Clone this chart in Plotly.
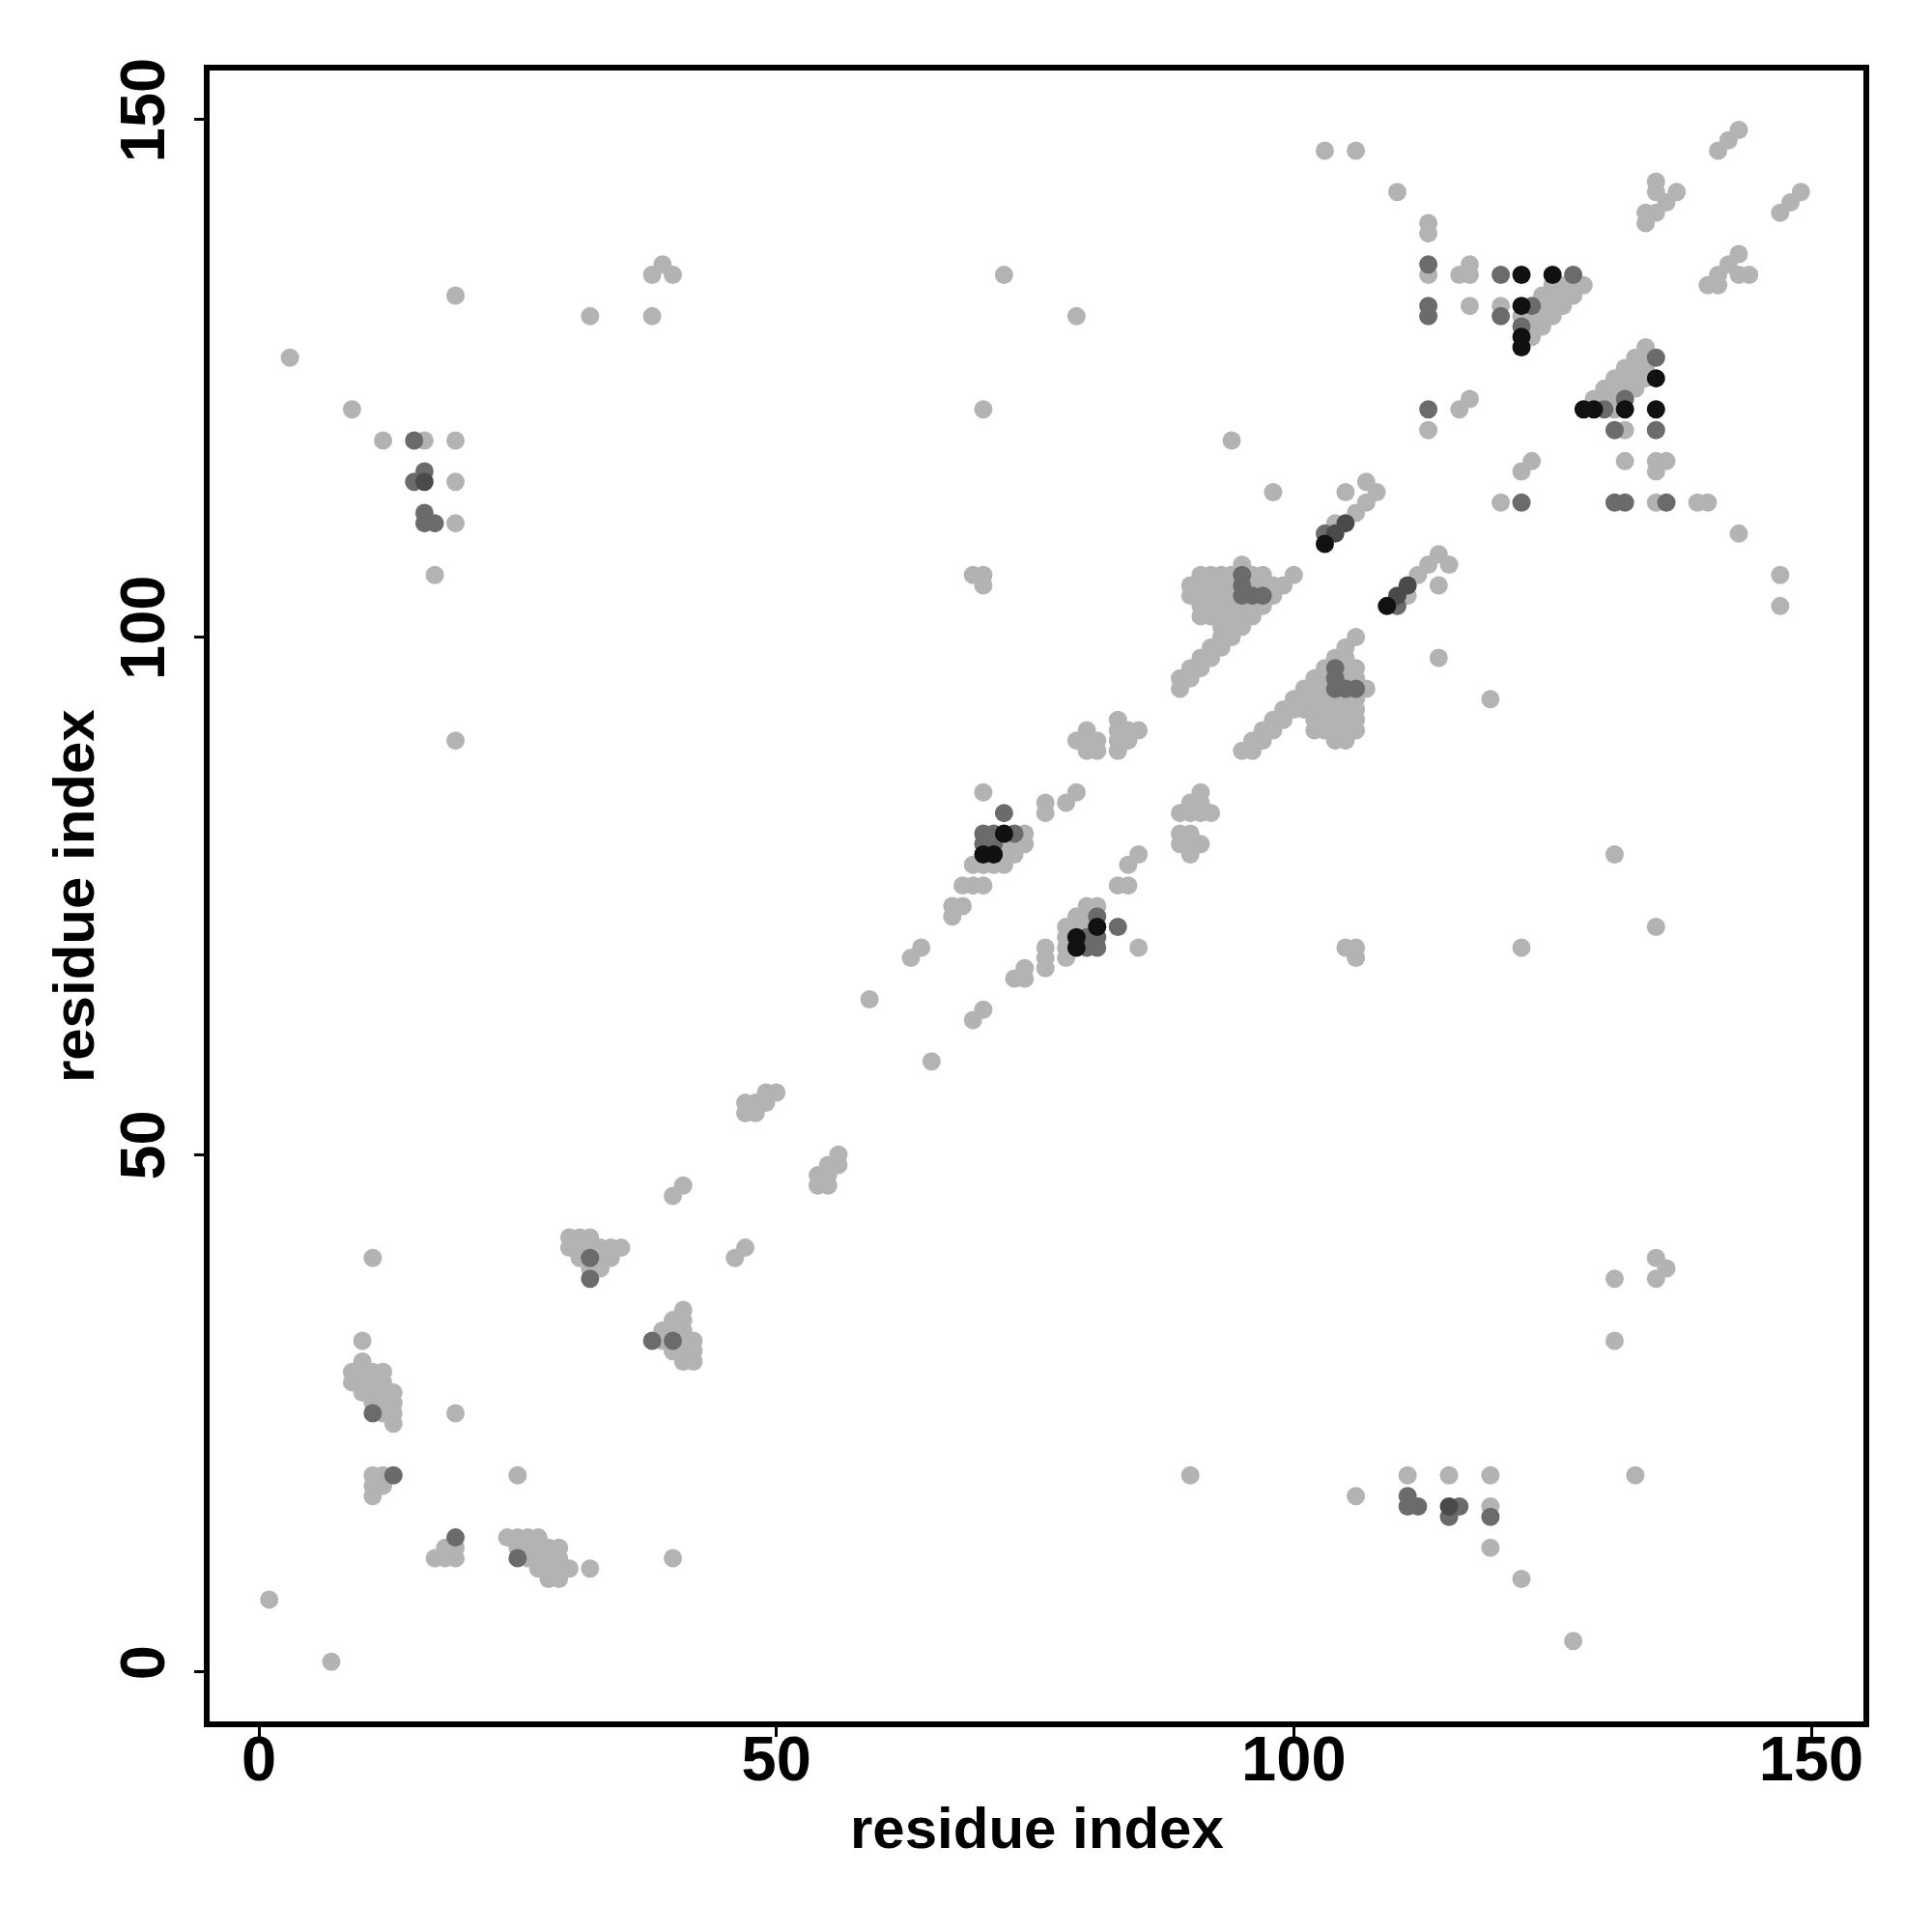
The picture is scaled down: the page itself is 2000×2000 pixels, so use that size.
import plotly.graph_objects as go

# Contact map (symmetric): pairs listed for the upper triangle (x < y); mirrored below.
light_pairs = [
    (1, 7), (3, 127), (9, 122), (12, 119), (16, 119), (19, 119), (19, 115), (19, 111), (17, 106), (19, 133),
    (32, 131), (38, 131), (38, 135), (39, 136), (40, 135), (19, 90), (72, 135), (79, 131), (70, 122), (94, 119),
    (98, 114), (69, 106), (70, 106), (70, 105), (103, 147), (106, 147), (110, 143), (113, 140), (113, 139), (113, 135),
    (116, 135), (117, 135), (117, 136), (117, 132), (120, 132), (113, 120), (116, 122), (117, 123), (122, 131),
    (134, 140), (134, 141), (135, 141), (135, 143), (135, 144), (136, 142), (137, 143), (141, 147), (142, 148), (143, 149),
    (11, 40), (19, 25), (10, 32), (11, 17), (11, 18), (11, 19), (12, 18), (12, 19),
    (10, 30), (9, 29), (10, 29), (11, 29), (12, 29), (9, 28), (10, 28), (11, 28), (12, 28), (10, 27), (11, 27),
    (12, 27), (13, 27), (11, 26), (12, 26), (13, 26), (12, 25), (13, 25), (13, 24),
    (30, 42), (31, 42), (32, 42), (30, 41), (31, 41), (32, 41), (33, 41), (34, 41), (35, 41), (31, 40), (33, 40),
    (34, 40), (32, 39), (33, 39),
    (40, 46), (41, 47), (47, 54), (47, 55), (48, 54), (48, 55), (49, 55), (49, 56), (50, 56),
    (59, 65), (63, 69), (64, 70), (67, 73), (67, 74), (68, 74), (68, 76), (69, 76), (70, 76),
    (69, 78), (70, 78), (71, 78), (72, 78), (72, 79), (72, 80), (73, 79), (73, 80), (74, 80), (74, 81), (70, 85),
    (76, 83), (76, 84), (78, 84), (79, 85),
    (79, 90), (80, 89), (80, 90), (80, 91), (81, 89), (81, 90), (83, 89), (83, 90), (83, 91), (83, 92), (84, 90),
    (84, 91), (85, 91),
    (89, 95), (89, 96), (90, 96), (90, 97), (91, 97), (91, 98), (92, 98), (92, 99), (93, 99), (93, 100), (94, 100),
    (93, 101), (94, 101), (95, 101),
    (95, 107),
    (91, 106), (92, 106), (93, 106), (94, 106), (96, 106), (97, 106), (100, 106),
    (90, 105), (91, 105), (92, 105), (93, 105), (94, 105), (96, 105), (97, 105), (98, 105), (99, 105),
    (90, 104), (91, 104), (92, 104), (93, 104), (94, 104), (98, 104),
    (91, 103), (92, 103), (93, 103), (94, 103), (95, 103), (96, 103), (97, 103),
    (91, 102), (92, 102), (93, 102), (94, 102), (95, 102), (96, 102),
    (104, 111), (106, 112), (107, 113), (105, 114), (107, 115), (108, 114),
    (125, 134), (126, 134), (127, 134), (128, 134), (124, 133), (125, 133), (126, 133), (127, 133),
    (124, 132), (125, 132), (126, 132), (123, 131), (124, 131), (125, 131), (123, 130), (124, 130), (123, 129),
]

mid_pairs = [
    (15, 119), (16, 116), (16, 112), (16, 111), (17, 111), (15, 115), (11, 25), (13, 19), (32, 38), (32, 40),
    (72, 83), (73, 81), (71, 80), (71, 81), (70, 80), (70, 81), (95, 106), (95, 105), (95, 104), (96, 104),
    (97, 104), (103, 110), (120, 135), (127, 135), (120, 131), (123, 132), (122, 130), (113, 136), (113, 132),
    (113, 131), (113, 122),
]

dark_pairs = [(16, 115), (104, 110), (105, 111)]

black_pairs = [(72, 81), (71, 79), (70, 79), (103, 109), (122, 135), (125, 135), (122, 132), (122, 129), (122, 128)]

levels = [
    ("light", light_pairs, "#b3b3b3"),
    ("mid", mid_pairs, "#6b6b6b"),
    ("dark", dark_pairs, "#4a4a4a"),
    ("black", black_pairs, "#111111"),
]

tick_vals = [0, 50, 100, 150]
axis_title = "residue index"

fig = go.Figure()
for name, pairs, color in levels:
    xs = [a for a, b in pairs] + [b for a, b in pairs]
    ys = [b for a, b in pairs] + [a for a, b in pairs]
    fig.add_trace(go.Scatter(
        x=xs, y=ys, mode="markers", name=name,
        marker=dict(size=19, color=color, line=dict(width=0)),
        showlegend=False,
    ))

FAMILY = "Liberation Sans, Arial, sans-serif"
font_tick = dict(family=FAMILY, size=65, color="black", weight="bold")
font_title = dict(family=FAMILY, size=60, color="black", weight="bold")

axis_common = dict(
    showgrid=False, zeroline=False,
    showline=True, mirror=True, linecolor="black", linewidth=5.5,
    ticks="outside", ticklen=10, tickwidth=3, tickcolor="black",
    tickvals=tick_vals, ticktext=[str(v) for v in tick_vals],
    tickfont=font_tick,
)

fig.update_layout(
    width=1992, height=1992,
    margin=dict(l=209, r=71, t=65, b=218),
    paper_bgcolor="white", plot_bgcolor="white",
    xaxis=dict(range=[-4.76, 155.04], ticklabelstandoff=-33, **axis_common),
    yaxis=dict(range=[-4.77, 154.74], tickangle=-90, ticklabelstandoff=5, **axis_common),
    annotations=[
        dict(text=axis_title, xref="paper", yref="paper", x=0.5, y=-0.0644,
             xanchor="center", yanchor="middle", showarrow=False, font=font_title),
        dict(text=axis_title, xref="paper", yref="paper", x=-0.082, y=0.5,
             xanchor="center", yanchor="middle", showarrow=False, textangle=-90, font=font_title),
    ],
)

fig.write_html("out.html")
